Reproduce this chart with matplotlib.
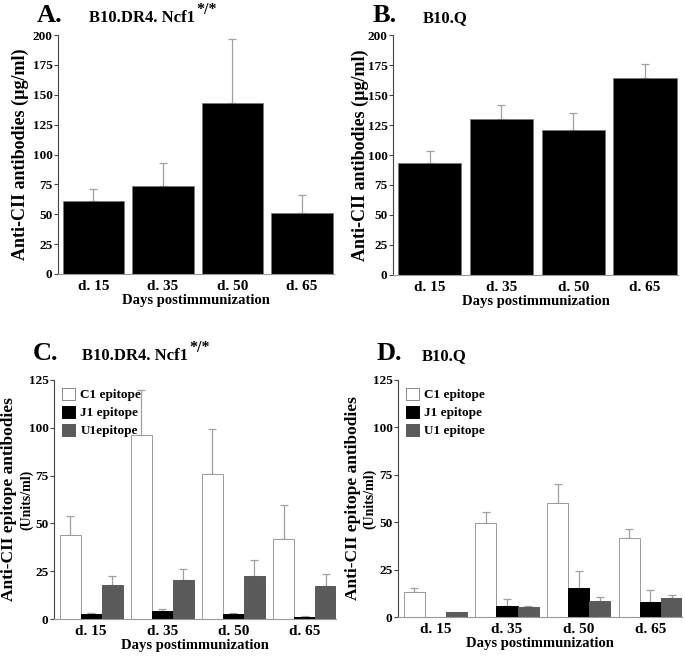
import matplotlib
matplotlib.use("Agg")
import matplotlib.pyplot as plt
import numpy as np
from matplotlib.patches import Patch

plt.rcParams['font.family'] = ['Liberation Serif', 'DejaVu Serif']
plt.rcParams['font.weight'] = 'bold'

days = ["d. 15", "d. 35", "d. 50", "d. 65"]

# Panel A: B10.DR4.Ncf1*/* total anti-CII
a_vals = [61, 74, 143, 51]
a_err = [10, 19, 54, 15]
# Panel B: B10.Q total anti-CII
b_vals = [93, 130, 121, 164]
b_err = [10, 12, 14, 12]

# Panel C: epitope antibodies B10.DR4.Ncf1*/*
c_c1 = [44, 96, 76, 42]
c_c1_err = [10, 24, 23.5, 17.5]
c_j1 = [2.5, 4, 2.5, 1]
c_j1_err = [0.5, 1, 0.5, 0.5]
c_u1 = [18, 20.5, 22.5, 17]
c_u1_err = [4.5, 5.5, 8.5, 6.5]

# Panel D: epitope antibodies B10.Q
d_c1 = [13, 49.5, 60, 41.5]
d_c1_err = [2.5, 6, 10, 5]
d_j1 = [0, 6, 15.5, 8]
d_j1_err = [0, 3.5, 8.5, 6]
d_u1 = [2.5, 5.5, 8.5, 10]
d_u1_err = [0, 0.5, 2, 1.5]

W, H = 685, 657
fig = plt.figure(figsize=(W / 100, H / 100), dpi=100)

def ax_at(l, r, t, b):
    return fig.add_axes([l / W, 1 - b / H, (r - l) / W, (b - t) / H])

ERRC = '#a0a0a0'
GRAY = '#5a5a5a'

def style(ax, ymax, step, ylabel, ylx, yfs):
    ax.set_ylim(0, ymax)
    ax.set_yticks(np.arange(0, ymax + 1, step))
    for s in ['top', 'right']:
        ax.spines[s].set_visible(False)
    ax.spines['left'].set_color('#444444')
    ax.spines['bottom'].set_color('#999999')
    ax.tick_params(axis='y', direction='out', length=3, width=0.8, color='#444444',
                   labelsize=9.5, pad=1)
    ax.tick_params(axis='x', length=0, labelsize=11, pad=4)
    ax.set_xticks(range(4))
    ax.set_xticklabels(days, fontweight='bold')
    for lab in ax.get_yticklabels():
        lab.set_fontweight('bold')
    ax.set_xlabel("Days postimmunization", fontsize=10.5, fontweight='bold', labelpad=1)
    ax.set_ylabel(ylabel, fontsize=yfs, fontweight='bold', va='center', ha='center')
    ax.yaxis.set_label_coords(ylx, 0.5)

def single(ax, vals, err, ylx):
    x = np.arange(len(vals))
    ax.bar(x, vals, width=0.88, color='black', edgecolor='#777777', linewidth=0.5, zorder=2)
    ax.errorbar(x, vals, yerr=[np.zeros(len(err)), err], fmt='none', ecolor=ERRC,
                elinewidth=0.9, capsize=3, capthick=0.9, zorder=1)
    ax.set_xlim(-0.51, 3.46)
    style(ax, 200, 25, "Anti-CII antibodies (µg/ml)", ylx, 13)

def grouped(ax, s1, e1, s2, e2, s3, e3, labels, ylx, ylx2):
    x = np.arange(4)
    w = 0.295
    specs = [(s1, e1, 'white', '#999999', -w), (s2, e2, 'black', 'black', 0), (s3, e3, GRAY, GRAY, w)]
    handles = []
    for (vals, err, fc, ec, off), lab in zip(specs, labels):
        ax.bar(x + off, vals, width=w, color=fc, edgecolor=ec, linewidth=0.7, zorder=2)
        errs = np.array(err, dtype=float)
        mask = errs > 0
        ax.errorbar((x + off)[mask], np.array(vals)[mask],
                    yerr=[np.zeros(mask.sum()), errs[mask]], fmt='none', ecolor=ERRC,
                    elinewidth=0.9, capsize=3, capthick=0.9, zorder=1)
        handles.append(Patch(facecolor=fc, edgecolor='#888888' if fc == 'white' else fc,
                             linewidth=0.7, label=lab))
    ax.set_xlim(-0.52, 3.44)
    style(ax, 125, 25, "Anti-CII epitope antibodies", ylx, 12.5)
    ax.text(ylx2, 0.5, "(Units/ml)", transform=ax.transAxes, rotation=90,
            ha='center', va='center', fontsize=10, fontweight='bold')
    ax.legend(handles=handles, loc='upper left', bbox_to_anchor=(0.0, 1.0),
              frameon=False, handlelength=1.0, handleheight=1.0,
              handletextpad=0.4, labelspacing=0.35, borderaxespad=0.2,
              prop={'weight': 'bold', 'size': 9.5})

axA = ax_at(58, 334, 35, 274)
single(axA, a_vals, a_err, -0.138)
axB = ax_at(393, 678, 35, 275)
single(axB, b_vals, b_err, -0.116)
axC = ax_at(54, 336, 380, 619)
grouped(axC, c_c1, c_c1_err, c_j1, c_j1_err, c_u1, c_u1_err,
        ["C1 epitope", "J1 epitope", "U1epitope"], -0.158, -0.097)
axD = ax_at(398, 682, 380, 617)
grouped(axD, d_c1, d_c1_err, d_j1, d_j1_err, d_u1, d_u1_err,
        ["C1 epitope", "J1 epitope", "U1 epitope"], -0.160, -0.100)

renderer = fig.canvas.get_renderer()

def panel_title(letter, lx, name, nx, y, sup=False):
    fig.text(lx / W, 1 - y / H, letter, fontsize=19, fontweight='bold', va='baseline', ha='left')
    t = fig.text(nx / W, 1 - y / H, name, fontsize=12, fontweight='bold', va='baseline', ha='left')
    if sup:
        bb = t.get_window_extent(renderer=renderer)
        fig.text(bb.x1 / W + 1 / W, 1 - (y - 8) / H, "*/*", fontsize=11.5, fontweight='bold',
                 va='baseline', ha='left')

panel_title("A.", 37, "B10.DR4. Ncf1", 89, 22, sup=True)
panel_title("B.", 373, "B10.Q", 423, 22)
panel_title("C.", 33, "B10.DR4. Ncf1", 82, 360, sup=True)
panel_title("D.", 377, "B10.Q", 422, 360)

fig.savefig("out.png", dpi=100)
